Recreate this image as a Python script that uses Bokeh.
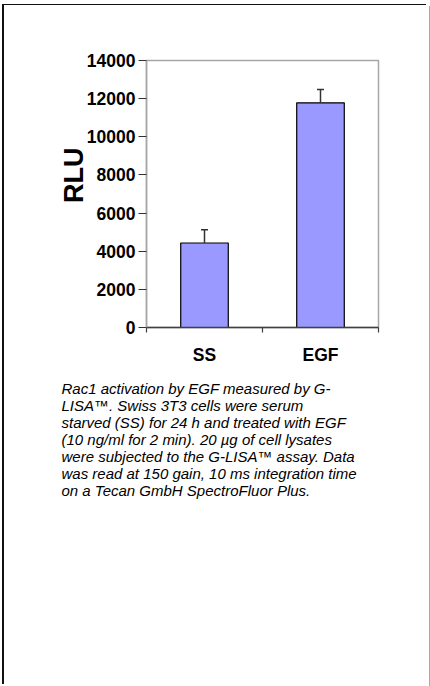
from bokeh.plotting import figure
from bokeh.models import (ColumnDataSource, Range1d, LinearAxis,
                          FixedTicker, Whisker, TeeHead, Title)
from bokeh.embed import file_html
from bokeh.resources import INLINE

# ---- data ----
categories = ["SS", "EGF"]
rlu_values = [4430, 11780]
rlu_errors = [700, 700]
y_ticks = [0, 2000, 4000, 6000, 8000, 10000, 12000, 14000]
y_tick_labels = ["0", "2000", "4000", "6000", "8000", "10000", "12000", "14000"]
y_label = "RLU"
caption_lines = [
    "Rac1 activation by EGF measured by G-",
    "LISA\u2122.  Swiss 3T3 cells were serum",
    "starved (SS) for 24 h and treated with EGF",
    "(10 ng/ml for 2 min). 20 \u00b5g of cell lysates",
    "were subjected to the G-LISA\u2122 assay. Data",
    "was read at 150 gain, 10 ms integration time",
    "on a Tecan GmbH SpectroFluor Plus.",
]

FONT = "Liberation Sans"

# ---- layout (pixels; canvas placed at page 5,6) ----
W, H = 424, 680
FL, FT, FW, FH = 141, 54, 232, 267
n = len(categories)
y_max = y_ticks[-1]

centers = [i + 0.5 for i in range(n)]
src = ColumnDataSource(dict(
    x=centers,
    val=rlu_values,
    upper=[v + e for v, e in zip(rlu_values, rlu_errors)],
))

p = figure(width=W, height=H, x_range=Range1d(0, n), y_range=Range1d(0, y_max),
           output_backend="svg", toolbar_location=None, x_axis_location=None,
           min_border_left=FL, min_border_right=W - FL - FW,
           min_border_top=FT, min_border_bottom=H - FT - FH)
p.styles = {"margin-left": "5px", "margin-top": "6px",
            "box-shadow": "-1px -1px 0 0 white, -3px -2px 0 0 #111111, 1px 0 0 0 #aaaaaa"}

p.xgrid.visible = False
p.ygrid.visible = False
p.background_fill_color = "white"
p.border_fill_color = "white"
p.outline_line_color = "#a6a6a6"
p.outline_line_width = 1.5

# y axis
ya = p.yaxis[0]
ya.ticker = FixedTicker(ticks=y_ticks)
ya.major_label_overrides = {t: l for t, l in zip(y_ticks, y_tick_labels)}
ya.axis_line_color = "#a6a6a6"
ya.axis_line_width = 1.5
ya.major_tick_line_color = "#333333"
ya.major_tick_line_width = 1.2
ya.major_tick_out = 8
ya.major_tick_in = 0
ya.minor_tick_line_color = None
ya.major_label_standoff = 3
ya.major_label_text_font = FONT
ya.major_label_text_font_style = "bold"
ya.major_label_text_font_size = "17.5px"
ya.major_label_text_color = "black"
ya.axis_label = "\u00a0" * 5 + y_label
ya.axis_label_standoff = -5
ya.axis_label_text_font = FONT
ya.axis_label_text_font_style = "bold"
ya.axis_label_text_font_size = "27px"
ya.axis_label_text_color = "black"

# x boundary ticks axis
bound_ticks = list(range(n + 1))
bax = LinearAxis(ticker=FixedTicker(ticks=bound_ticks),
                 major_label_overrides={t: "" for t in bound_ticks},
                 major_label_text_font_size="1px", major_label_standoff=0,
                 axis_line_color="#404040", axis_line_width=1.5,
                 major_tick_line_color="#404040", major_tick_line_width=1.2,
                 major_tick_out=5, major_tick_in=0, minor_tick_line_color=None)
p.add_layout(bax, "below")

# category label axis
cax = LinearAxis(ticker=FixedTicker(ticks=centers),
                 major_label_overrides={c: name for c, name in zip(centers, categories)},
                 axis_line_color=None, major_tick_line_color=None, major_tick_out=0,
                 major_tick_in=0, minor_tick_line_color=None, major_label_standoff=12,
                 major_label_text_font=FONT, major_label_text_font_style="bold",
                 major_label_text_font_size="17.5px", major_label_text_color="black")
p.add_layout(cax, "below")

# bars
p.vbar(x="x", top="val", width=0.41, source=src, fill_color="#9999FF",
       line_color="black", line_width=1.2)

# error bars (upper only)
wk = Whisker(source=src, base="x", lower="val", upper="upper", dimension="height",
             line_color="#333333", line_width=1.5,
             upper_head=TeeHead(size=7, line_color="#333333", line_width=1.5),
             lower_head=None, level="overlay")
p.add_layout(wk)

# caption below the axes
p.add_layout(Title(text="\n".join(caption_lines), align="left", offset=-85, standoff=25,
                   vertical_align="top",
                   text_font=FONT, text_font_style="italic", text_font_size="15px",
                   text_line_height=1.0, text_color="black"), "below")

open("out.html", "w").write(file_html(p, INLINE))
